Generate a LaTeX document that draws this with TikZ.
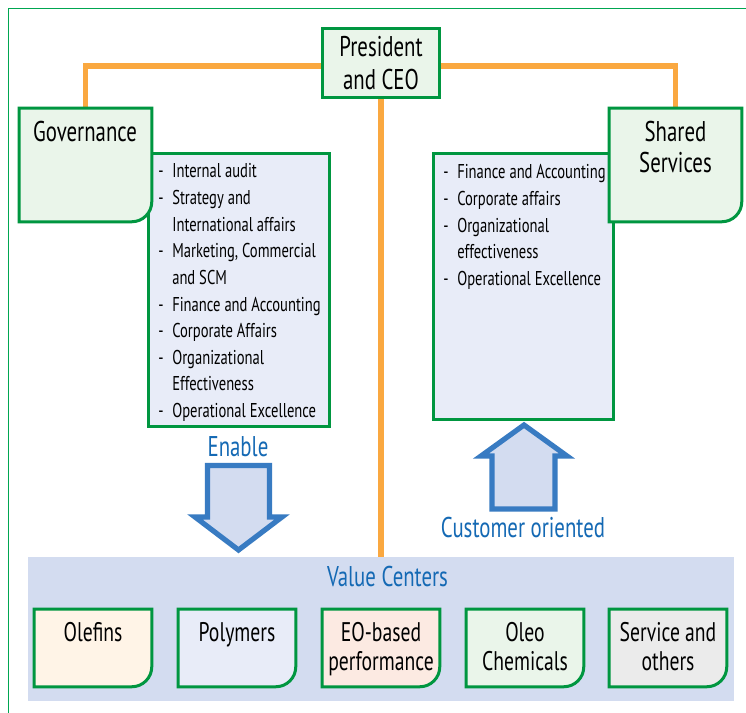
\documentclass[tikz,border=0pt]{standalone}
\usepackage{fontspec}
\setmainfont{PT Sans}[FakeStretch=0.73]
\definecolor{gborder}{RGB}{0,150,64}
\definecolor{gfill}{RGB}{234,245,234}
\definecolor{orangec}{RGB}{250,168,64}
\definecolor{lfill}{RGB}{232,236,248}
\definecolor{bandfill}{RGB}{211,220,240}
\definecolor{bluearrow}{RGB}{56,123,194}
\definecolor{bluetext}{RGB}{20,105,180}
\definecolor{olefill}{RGB}{255,244,231}
\definecolor{eofill}{RGB}{252,234,226}
\definecolor{grayfill}{RGB}{235,235,235}
\definecolor{framec}{RGB}{0,166,81}
\newcommand\roundbox[2]{\draw[gline, fill=#2] (#1.north west) -- (#1.north east) -- ([yshift=15pt]#1.south east) arc[start angle=0, end angle=-90, radius=15pt] -- (#1.south west) -- cycle;}
\begin{document}
\begin{tikzpicture}[x=0.75pt,y=-0.75pt,
  gline/.style={draw=gborder, line width=2.25pt},
  orangeline/.style={draw=orangec, line width=3.9pt},
  boxn/.style={rectangle, inner sep=0pt, draw=none},
  sqbox/.style={rectangle, inner sep=0pt, gline},
  big/.style={font=\fontsize{21.4}{24}\selectfont, inner sep=0pt, anchor=base},
  mid/.style={font=\fontsize{20.2}{24}\selectfont, inner sep=0pt, anchor=base},
  lst/.style={font=\fontsize{15}{20}\selectfont, inner sep=0pt, anchor=base west},
  bluelabel/.style={font=\fontsize{21.4}{24}\selectfont, text=bluetext, inner sep=0pt, anchor=base},
  bigarrow/.style={draw=bluearrow, fill=bandfill, line width=3.9pt, line join=miter},
  framel/.style={draw=framec, line width=1.2pt}]
\useasboundingbox (0,0) rectangle (746,713);
\fill[white] (0,0) rectangle (746,713);
\draw[framel] (8.5,713) -- (8.5,8.5) -- (746,8.5);

% nodes (geometry)
\node[boxn, minimum width=87.75pt, minimum height=51.75pt] (pres) at (381,63) {};
\node[boxn, minimum width=99pt, minimum height=84.75pt] (gov) at (85.5,165) {};
\node[boxn, minimum width=99pt, minimum height=84.75pt] (sh) at (675.5,165) {};
\node[boxn, minimum width=529.5pt, minimum height=108pt] (vc) at (381,629) {};

% connectors
\draw[orangeline] ([yshift=-2.25pt]pres.west) -| (gov.north);
\draw[orangeline] ([yshift=-2.25pt]pres.east) -| (sh.north);
\draw[orangeline] (pres.south) -- (pres.south |- vc.north);

% list boxes
\node[sqbox, fill=lfill, minimum width=135.75pt, minimum height=204pt] (glist) at (239,290) {};
\node[sqbox, fill=lfill, minimum width=135pt, minimum height=198.75pt] (slist) at (523.5,286.5) {};

% top boxes
\roundbox{gov}{gfill}
\roundbox{sh}{gfill}
\node[sqbox, fill=gfill, minimum width=87.75pt, minimum height=51.75pt] at (pres) {};

% arrows
\draw[bigarrow] (207.5,465.5) -- (269.5,465.5) -- (269.5,517) -- (282,517) -- (238.5,550) -- (195,517) -- (207.5,517) -- cycle;
\draw[bigarrow] (492,509) -- (555,509) -- (555,456) -- (567,456) -- (524,425) -- (481,456) -- (492,456) -- cycle;

% value band
\fill[bandfill] (vc.north west) rectangle (vc.south east);
\foreach \n/\x/\f in {ole/93/olefill, pol/237/lfill, eo/381/eofill, oleo/525/gfill, serv/668/grayfill}{
  \node[boxn, minimum width=87.75pt, minimum height=57.75pt] (\n) at (\x,648) {};
  \roundbox{\n}{\f}
}

% texts
\node[big] (prest1) at (381,57) {President};
\node[big] (prest2) at (381,90) {and CEO};
\node[big] (govt) at (85,142) {Governance};
\node[big] (sht1) at (675.5,142) {Shared};
\node[big] (sht2) at (675.5,173) {Services};

\foreach \d/\t [count=\i from 0] in {1/Internal audit, 1/Strategy and, 0/International affairs, 1/{Marketing, Commercial}, 0/and SCM, 1/Finance and Accounting, 1/Corporate Affairs, 1/Organizational, 0/Effectiveness, 1/Operational Excellence}{
  \node[lst] (gl\i) at (172,{178+26.6*\i}) {\t};
  \ifnum\d=1 \node[lst] (gd\i) at (158,{178+26.6*\i}) {-};\fi
}
\foreach \d/\t [count=\i from 0] in {1/Finance and Accounting, 1/Corporate affairs, 1/Organizational, 0/effectiveness, 1/Operational Excellence}{
  \node[lst] (sl\i) at (457,{179+26.6*\i}) {\t};
  \ifnum\d=1 \node[lst] (sd\i) at (443,{179+26.6*\i}) {-};\fi
}

\node[bluelabel] (enable) at (238,456) {Enable};
\node[bluelabel] (cust) at (523,537) {Customer oriented};
\node[bluelabel] (vct) at (387.5,586) {Value Centers};

\node[mid] (olet) at (93,641) {Olefins};
\node[mid] (polt) at (237,641) {Polymers};
\node[mid] (eot1) at (381,641) {EO-based};
\node[mid] (eot2) at (381,670) {performance};
\node[mid] (oleot1) at (525,641) {Oleo};
\node[mid] (oleot2) at (525,670) {Chemicals};
\node[mid] (servt1) at (668,641) {Service and};
\node[mid] (servt2) at (668,670) {others};
\end{tikzpicture}
\end{document}
